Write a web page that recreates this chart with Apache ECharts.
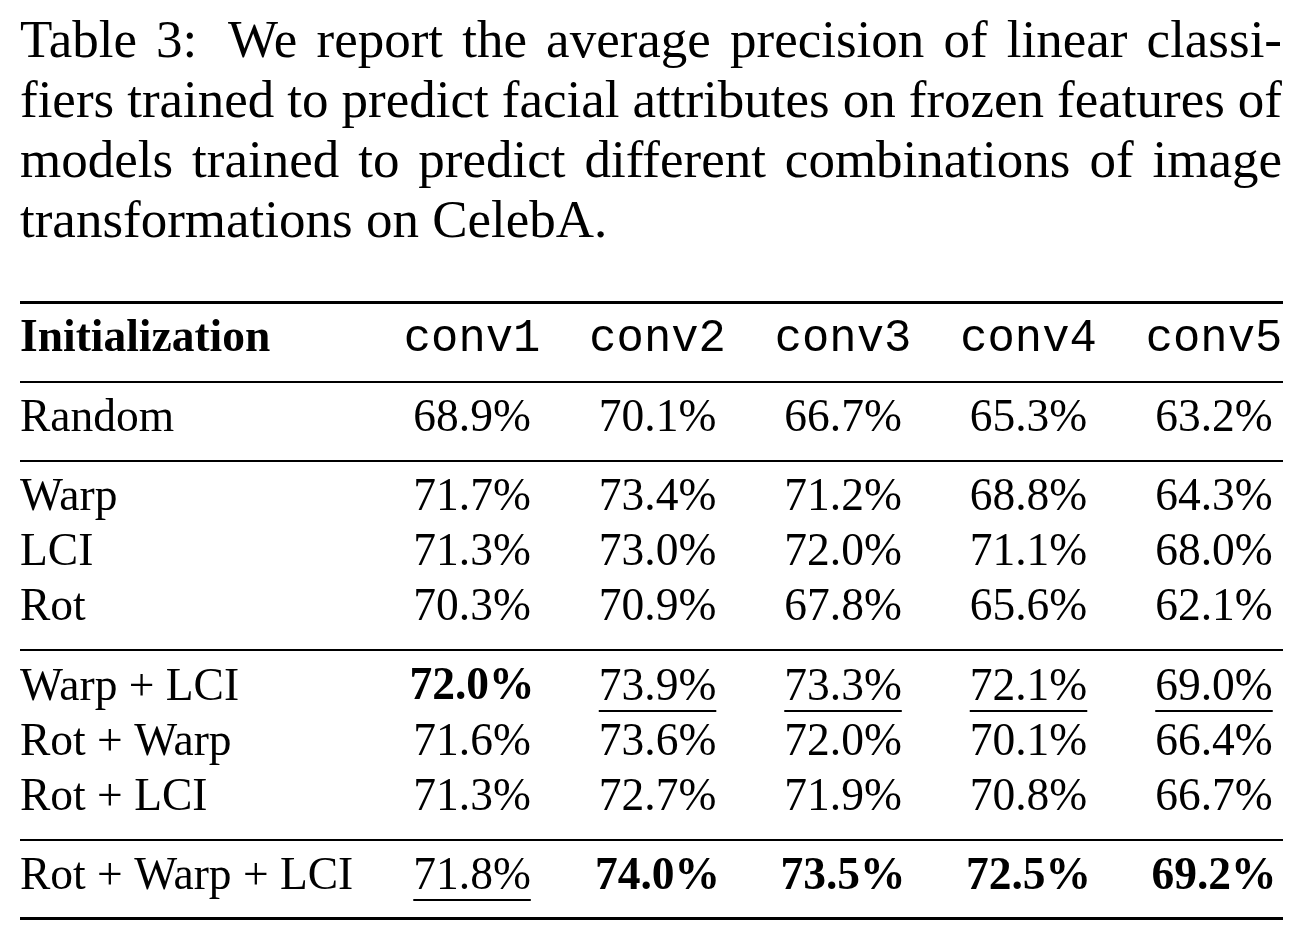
<!DOCTYPE html>
<html><head><meta charset="utf-8">
<script src="https://cdn.jsdelivr.net/npm/echarts@6/dist/echarts.min.js"></script>
<style>html,body{margin:0;padding:0;background:#fff}#c{width:1300px;height:940px}</style>
</head><body><div id="c"></div>
<script>
// ---------- data ----------
const captionLines = [
  'Table 3:  We report the average precision of linear classi-',
  'fiers trained to predict facial attributes on frozen features of',
  'models trained to predict different combinations of image',
  'transformations on CelebA.'
];
const headerLabel = 'Initialization';
const columns = ['conv1', 'conv2', 'conv3', 'conv4', 'conv5'];
const rowLabels = ['Random', 'Warp', 'LCI', 'Rot', 'Warp + LCI', 'Rot + Warp', 'Rot + LCI', 'Rot + Warp + LCI'];
const rowGroup = [1, 2, 2, 2, 3, 3, 3, 4];
const random     = [68.9, 70.1, 66.7, 65.3, 63.2];
const warp       = [71.7, 73.4, 71.2, 68.8, 64.3];
const lci        = [71.3, 73.0, 72.0, 71.1, 68.0];
const rot        = [70.3, 70.9, 67.8, 65.6, 62.1];
const warpLci    = [72.0, 73.9, 73.3, 72.1, 69.0];
const rotWarp    = [71.6, 73.6, 72.0, 70.1, 66.4];
const rotLci     = [71.3, 72.7, 71.9, 70.8, 66.7];
const rotWarpLci = [71.8, 74.0, 73.5, 72.5, 69.2];
const rowValues = [random, warp, lci, rot, warpLci, rotWarp, rotLci, rotWarpLci];

// ---------- layout / style ----------
const SERIF = '"Liberation Serif", "Times New Roman", serif';
const MONO = '"Liberation Mono", "Courier New", monospace';
const CAP_FS = 53, TAB_FS = 45.5;
const fontSerif = TAB_FS + 'px ' + SERIF;
const fontBold = 'bold ' + TAB_FS + 'px ' + SERIF;
const fontMono = TAB_FS + 'px ' + MONO;
const GROUP_GAP = 0.445;
const TOP_PAD = 0.678, BOT_PAD = 0.742;
const RULE_SHIFT = 0.045;
const X_MIN = -1.437, X_MAX = 5.372;

const mctx = document.createElement('canvas').getContext('2d');
function textWidth(t, font) { mctx.font = font; return mctx.measureText(t).width; }

// row positions on the (row-unit) y axis
const rowPos = rowLabels.map((_, i) => i + 1 + GROUP_GAP * rowGroup[i]);
const lastPos = rowPos[rowPos.length - 1];
const rules = [[X_MIN, -TOP_PAD, 3]];
const groupsPos = [[0]];
rowLabels.forEach((_, i) => { (groupsPos[rowGroup[i]] = groupsPos[rowGroup[i]] || []).push(rowPos[i]); });
for (let g = 0; g < groupsPos.length - 1; g++) {
  const a = groupsPos[g][groupsPos[g].length - 1], b = groupsPos[g + 1][0];
  rules.push([X_MIN, (a + b) / 2 + RULE_SHIFT, 2]);
}
rules.push([X_MIN, lastPos + BOT_PAD, 3]);

// best / second best per column
const best = columns.map((_, c) => {
  const vals = Array.from(new Set(rowValues.map(r => r[c]))).sort((a, b) => b - a);
  return [vals[0], vals[1]];
});

const cells = [];
cells.push({x: X_MIN, y: 0, text: headerLabel, font: fontBold, align: 'left'});
columns.forEach((c, i) => cells.push({x: i + 1, y: 0, text: c, font: fontMono, align: 'center'}));
rowLabels.forEach((lab, r) => {
  cells.push({x: X_MIN, y: rowPos[r], text: lab, font: fontSerif, align: 'left'});
  rowValues[r].forEach((v, c) => {
    cells.push({
      x: c + 1, y: rowPos[r], text: v.toFixed(1) + '%',
      font: v === best[c][0] ? fontBold : fontSerif, align: 'center',
      underline: v === best[c][1]
    });
  });
});

// caption words, justified
const LEFT = 20, RIGHT = 1282;
const capFont = CAP_FS + 'px ' + SERIF;
const captionGraphics = [];
captionLines.forEach((line, li) => {
  const parts = line.split(' ');
  const words = [], weights = [];
  let w = 1;
  parts.forEach(p => { if (p === '') { w += 0.6; } else { if (words.length) weights.push(w); words.push(p); w = 1; } });
  const widths = words.map(t => textWidth(t, capFont));
  const total = widths.reduce((a, b) => a + b, 0);
  const last = li === captionLines.length - 1;
  const unit = last ? textWidth(' ', capFont) : (RIGHT - LEFT - total) / weights.reduce((a, b) => a + b, 0);
  let x = LEFT;
  const y = 43 + li * 60;
  words.forEach((t, k) => {
    captionGraphics.push({type: 'text', x: x, y: y, silent: true,
      style: {text: t, font: capFont, fill: '#000', align: 'left', verticalAlign: 'middle'}});
    x += widths[k] + (k < weights.length ? weights[k] * unit : 0);
  });
});

const chart = echarts.init(document.getElementById('c'), null, {renderer: 'canvas'});
chart.setOption({
  animation: false,
  backgroundColor: '#fff',
  graphic: captionGraphics,
  grid: {left: 20, right: 17, top: 302, bottom: 22},
  xAxis: {type: 'value', min: X_MIN, max: X_MAX, show: false},
  yAxis: {type: 'value', inverse: true, min: -TOP_PAD, max: lastPos + BOT_PAD, show: false},
  series: [
    {
      type: 'custom', silent: true, clip: false,
      data: rules,
      encode: {x: 0, y: 1},
      renderItem: function (params, api) {
        const cs = params.coordSys;
        const p = api.coord([api.value(0), api.value(1)]);
        const h = api.value(2);
        return {type: 'rect', shape: {x: cs.x, y: Math.round(p[1] - h / 2), width: cs.width, height: h},
          style: {fill: '#000'}};
      }
    },
    {
      type: 'custom', silent: true, clip: false,
      data: cells.map(c => [c.x, c.y]),
      encode: {x: 0, y: 1},
      renderItem: function (params, api) {
        const cell = cells[params.dataIndex];
        const p = api.coord([api.value(0), api.value(1)]);
        const children = [{type: 'text', x: p[0], y: p[1],
          style: {text: cell.text, font: cell.font, fill: '#000', align: cell.align, verticalAlign: 'middle'}}];
        if (cell.underline) {
          const w = textWidth(cell.text, cell.font);
          const left = cell.align === 'center' ? p[0] - w / 2 : p[0];
          children.push({type: 'rect', shape: {x: left, y: Math.round(p[1] + 22), width: w, height: 2},
            style: {fill: '#000'}});
        }
        return {type: 'group', children: children};
      }
    }
  ]
});
</script></body></html>
